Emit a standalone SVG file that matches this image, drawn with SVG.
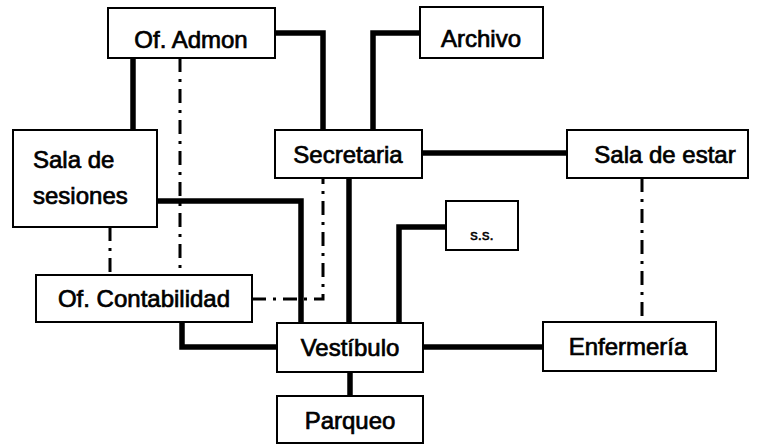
<svg xmlns="http://www.w3.org/2000/svg" width="760" height="445" viewBox="0 0 760 445">
<style>
.box{fill:#fff;stroke:#000;stroke-width:2}
.t{font-family:"Liberation Sans",Arial,sans-serif;font-size:24px;fill:#000;stroke:#000;stroke-width:0.7;text-anchor:middle}
.tl{text-anchor:start}
.thick{fill:none;stroke:#000;stroke-width:5.5;stroke-linejoin:miter}
.dd{fill:none;stroke:#000;stroke-width:3;stroke-dasharray:14 7 3 7}
</style>
<rect width="760" height="445" fill="#fff"/>
<g id="connectors">
<path class="thick" d="M133,58 V130"/>
<path class="thick" d="M275,33 H323 V130"/>
<path class="thick" d="M420,33 H373 V130"/>
<path class="thick" d="M422,153 H567"/>
<path class="thick" d="M157,201 H301 V323"/>
<path class="thick" d="M349,178 V323"/>
<path class="thick" d="M446,227 H399 V323"/>
<path class="thick" d="M182,322 V347 H277"/>
<path class="thick" d="M423,347 H543"/>
<path class="thick" d="M350,372 V396"/>
<path class="dd" d="M180,58 V275"/>
<path class="dd" d="M110,227 V275"/>
<path class="dd" d="M252,299 H323 V178"/>
<path class="dd" d="M642,178 V322"/>
</g>
<g id="of-admon"><rect class="box" x="108" y="8" width="167" height="50"/><text class="t" x="191" y="48">Of. Admon</text></g>
<g id="archivo"><rect class="box" x="420" y="7" width="123" height="51"/><text class="t" x="481" y="47">Archivo</text></g>
<g id="sala-sesiones"><rect class="box" x="13" y="130" width="144" height="97"/><text class="t tl" x="33" y="168">Sala de</text><text class="t tl" x="33" y="204">sesiones</text></g>
<g id="secretaria"><rect class="box" x="275" y="130" width="147" height="48"/><text class="t" x="348" y="163">Secretaria</text></g>
<g id="sala-estar"><rect class="box" x="567" y="130" width="181" height="48"/><text class="t" x="665" y="163">Sala de estar</text></g>
<g id="ss"><rect class="box" x="446" y="201" width="72" height="49"/><text class="t" x="482" y="240" style="font-size:15px;stroke-width:0.5">s.s.</text></g>
<g id="of-contabilidad"><rect class="box" x="36" y="275" width="216" height="47"/><text class="t" x="144" y="307">Of. Contabilidad</text></g>
<g id="vestibulo"><rect class="box" x="277" y="323" width="146" height="49"/><text class="t" x="350" y="356">Vestíbulo</text></g>
<g id="enfermeria"><rect class="box" x="543" y="322" width="173" height="49"/><text class="t" x="628" y="355">Enfermería</text></g>
<g id="parqueo"><rect class="box" x="277" y="396" width="146" height="47"/><text class="t" x="350" y="429">Parqueo</text></g>
</svg>
